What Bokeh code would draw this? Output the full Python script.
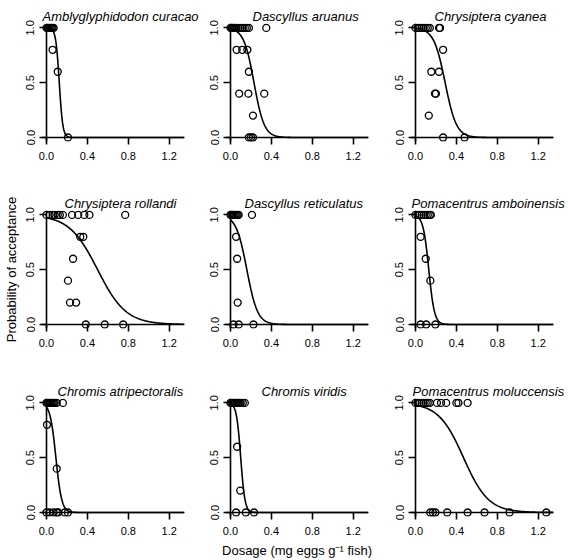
import numpy as np
from bokeh.plotting import figure
from bokeh.models import Range1d, FixedTicker, PrintfTickFormatter, Span
from bokeh.layouts import gridplot
from bokeh.embed import file_html
from bokeh.resources import INLINE

species = ["Amblyglyphidodon curacao", "Dascyllus aruanus", "Chrysiptera cyanea",
           "Chrysiptera rollandi", "Dascyllus reticulatus", "Pomacentrus amboinensis",
           "Chromis atripectoralis", "Chromis viridis", "Pomacentrus moluccensis"]

dose_a_curacao = [0.0, 0.01, 0.02, 0.03, 0.04, 0.05, 0.06, 0.07, 0.06, 0.11, 0.21]
acc_a_curacao = [1.0, 1.0, 1.0, 1.0, 1.0, 1.0, 1.0, 1.0, 0.8, 0.6, 0.0]

dose_d_aruanus = [0.0, 0.01, 0.02, 0.03, 0.04, 0.05, 0.06, 0.08, 0.10, 0.12, 0.14, 0.16, 0.18, 0.35,
                  0.06, 0.115, 0.165, 0.18, 0.085, 0.175, 0.33, 0.22, 0.18, 0.20, 0.22]
acc_d_aruanus = [1.0, 1.0, 1.0, 1.0, 1.0, 1.0, 1.0, 1.0, 1.0, 1.0, 1.0, 1.0, 1.0, 1.0,
                 0.8, 0.8, 0.8, 0.6, 0.4, 0.4, 0.4, 0.2, 0.0, 0.0, 0.0]

dose_c_cyanea = [0.0, 0.02, 0.04, 0.06, 0.08, 0.10, 0.12, 0.14, 0.23, 0.24,
                 0.27, 0.155, 0.23, 0.19, 0.20, 0.13, 0.27, 0.48]
acc_c_cyanea = [1.0, 1.0, 1.0, 1.0, 1.0, 1.0, 1.0, 1.0, 1.0, 1.0,
                0.8, 0.6, 0.6, 0.4, 0.4, 0.2, 0.0, 0.0]

dose_c_rollandi = [0.0, 0.03, 0.06, 0.08, 0.11, 0.13, 0.16, 0.25, 0.31, 0.37, 0.42, 0.77,
                   0.33, 0.36, 0.26, 0.21, 0.23, 0.29, 0.385, 0.57, 0.75]
acc_c_rollandi = [1.0, 1.0, 1.0, 1.0, 1.0, 1.0, 1.0, 1.0, 1.0, 1.0, 1.0, 1.0,
                  0.8, 0.8, 0.6, 0.4, 0.2, 0.2, 0.0, 0.0, 0.0]

dose_d_reticulatus = [0.0, 0.01, 0.02, 0.03, 0.04, 0.05, 0.06, 0.07, 0.08, 0.21,
                      0.055, 0.065, 0.07, 0.03, 0.08, 0.225]
acc_d_reticulatus = [1.0, 1.0, 1.0, 1.0, 1.0, 1.0, 1.0, 1.0, 1.0, 1.0,
                     0.8, 0.6, 0.2, 0.0, 0.0, 0.0]

dose_p_amboinensis = [0.0, 0.02, 0.04, 0.06, 0.08, 0.10, 0.12, 0.14, 0.15,
                      0.05, 0.10, 0.145, 0.05, 0.105, 0.195]
acc_p_amboinensis = [1.0, 1.0, 1.0, 1.0, 1.0, 1.0, 1.0, 1.0, 1.0,
                     0.8, 0.6, 0.4, 0.0, 0.0, 0.0]

dose_c_atripectoralis = [0.0, 0.01, 0.02, 0.03, 0.04, 0.05, 0.06, 0.07, 0.08, 0.10, 0.16,
                         0.005, 0.10, 0.0, 0.03, 0.07, 0.10, 0.115, 0.18, 0.21]
acc_c_atripectoralis = [1.0, 1.0, 1.0, 1.0, 1.0, 1.0, 1.0, 1.0, 1.0, 1.0, 1.0,
                        0.8, 0.4, 0.0, 0.0, 0.0, 0.0, 0.0, 0.0, 0.0]

dose_c_viridis = [0.0, 0.01, 0.02, 0.03, 0.04, 0.05, 0.06, 0.07, 0.08, 0.09, 0.10, 0.12, 0.14,
                  0.065, 0.095, 0.055, 0.15, 0.23]
acc_c_viridis = [1.0, 1.0, 1.0, 1.0, 1.0, 1.0, 1.0, 1.0, 1.0, 1.0, 1.0, 1.0, 1.0,
                 0.6, 0.2, 0.0, 0.0, 0.0]

dose_p_moluccensis = [0.0, 0.02, 0.04, 0.06, 0.08, 0.10, 0.12, 0.14, 0.21, 0.25, 0.30, 0.40, 0.42, 0.51,
                      0.145, 0.17, 0.195, 0.31, 0.51, 0.675, 0.92, 1.28]
acc_p_moluccensis = [1.0, 1.0, 1.0, 1.0, 1.0, 1.0, 1.0, 1.0, 1.0, 1.0, 1.0, 1.0, 1.0, 1.0,
                     0.0, 0.0, 0.0, 0.0, 0.0, 0.0, 0.0, 0.0]

doses = [dose_a_curacao, dose_d_aruanus, dose_c_cyanea, dose_c_rollandi, dose_d_reticulatus,
         dose_p_amboinensis, dose_c_atripectoralis, dose_c_viridis, dose_p_moluccensis]
accepts = [acc_a_curacao, acc_d_aruanus, acc_c_cyanea, acc_c_rollandi, acc_d_reticulatus,
           acc_p_amboinensis, acc_c_atripectoralis, acc_c_viridis, acc_p_moluccensis]

# fitted logistic dose-response curves (dosage at 50% acceptance, slope)
fit_ed50 = [0.125, 0.23, 0.29, 0.50, 0.16, 0.13, 0.092, 0.10, 0.47]
fit_slope = [58.0, 20.0, 18.0, 7.2, 19.0, 36.0, 35.0, 48.0, 8.2]

x_ticks = [0.0, 0.4, 0.8, 1.2]
x_tick_labels = ["0.0", "0.4", "0.8", "1.2"]
y_ticks = [0.0, 0.5, 1.0]
y_tick_labels = ["0.0", "0.5", "1.0"]

y_title = "Probability of acceptance"
x_title = "Dosage (mg eggs g\u207b\u00b9 fish)"

# ---- layout / style ----
FONT = "Liberation Sans"
TITLE_SIZE = 13
FRAME_W, FRAME_H = 143, 118
X_IN, Y_IN = 5, 4            # px between frame edge and the zero lines
X1, Y1 = 1.35, 1.04
X0 = -X_IN * X1 / (FRAME_W - X_IN)
Y0 = -Y_IN * Y1 / (FRAME_H - Y_IN)
PX_PER_X = FRAME_W / (X1 - X0)
TICK = 7
col_w = [200, 184, 184]
col_left = [41, 25, 26]
row_h = [187, 188, 185]
row_top = 23
title_x = [[0.72, 0.73, 0.73], [0.72, 0.72, 0.71], [0.72, 0.72, 0.71]]

# Arial / Liberation Sans advance widths (per 1000 em), used to centre the titles
ADV = {"A": 667, "C": 722, "D": 722, "P": 667, "a": 556, "b": 556, "c": 500, "d": 556,
       "e": 556, "g": 556, "h": 556, "i": 222, "l": 222, "m": 833, "n": 556, "o": 556,
       "p": 556, "r": 333, "s": 500, "t": 278, "u": 556, "v": 500, "y": 500, " ": 278}


def text_width(s, size):
    return sum(ADV.get(ch, 556) for ch in s) / 1000.0 * size


figs = []
for i, name in enumerate(species):
    r, c = divmod(i, 3)
    p = figure(width=col_w[c], height=row_h[r],
               x_range=Range1d(X0, X1), y_range=Range1d(Y0, Y1),
               output_backend="svg", toolbar_location=None,
               min_border_left=col_left[c],
               min_border_right=col_w[c] - col_left[c] - FRAME_W,
               min_border_top=row_top,
               min_border_bottom=row_h[r] - row_top - FRAME_H)
    p.outline_line_color = None
    p.xgrid.visible = False
    p.ygrid.visible = False
    p.background_fill_color = "white"
    p.border_fill_color = "white"

    centre_px = (title_x[r][c] - X0) * PX_PER_X
    p.title.text = name
    p.title.align = "left"
    p.title.vertical_align = "top"
    p.title.offset = int(round(centre_px - text_width(name, TITLE_SIZE) / 2))
    p.title.standoff = -5
    p.title.text_font = FONT
    p.title.text_font_style = "italic"
    p.title.text_font_size = f"{TITLE_SIZE}px"
    p.title.text_color = "black"

    p.xaxis.ticker = FixedTicker(ticks=x_ticks, minor_ticks=[])
    p.yaxis.ticker = FixedTicker(ticks=y_ticks, minor_ticks=[])
    p.xaxis.formatter = PrintfTickFormatter(format="%.1f")
    p.yaxis.formatter = PrintfTickFormatter(format="%.1f")
    p.xaxis.major_label_overrides = dict(zip(x_ticks, x_tick_labels))
    p.yaxis.major_label_overrides = dict(zip(y_ticks, y_tick_labels))
    p.yaxis.major_label_orientation = "parallel"
    for ax in (p.xaxis, p.yaxis):
        ax.axis_line_color = None
        ax.major_tick_line_width = 1.6
        ax.major_tick_line_color = "black"
        ax.minor_tick_out = 0
        ax.minor_tick_in = 0
        ax.major_label_text_font = FONT
        ax.major_label_text_font_size = "11px"
        ax.major_label_text_color = "black"
        ax.axis_label_text_font = FONT
        ax.axis_label_text_font_size = "13px"
        ax.axis_label_text_font_style = "normal"
        ax.axis_label_text_color = "black"
        ax.axis_label_standoff = 5
    p.xaxis.major_tick_in = Y_IN
    p.xaxis.major_tick_out = TICK - Y_IN
    p.yaxis.major_tick_in = X_IN
    p.yaxis.major_tick_out = TICK - X_IN
    p.xaxis.major_label_standoff = 7
    p.yaxis.major_label_standoff = 5
    if r == 1 and c == 0:
        p.yaxis.axis_label = y_title
    if r == 2 and c == 1:
        p.xaxis.axis_label = x_title

    xs = np.linspace(0.0, 1.35, 271)
    ys = 1.0 / (1.0 + np.exp(fit_slope[i] * (xs - fit_ed50[i])))
    p.line(xs, ys, line_color="black", line_width=1.6)
    p.scatter(doses[i], accepts[i], marker="circle", size=7, fill_color=None,
              line_color="black", line_width=1.3)
    p.add_layout(Span(location=0, dimension="width", line_color="black", line_width=1.6))
    p.add_layout(Span(location=0, dimension="height", line_color="black", line_width=1.6))
    figs.append(p)

grid = gridplot([figs[0:3], figs[3:6], figs[6:9]], toolbar_location=None)

open("out.html", "w").write(file_html(grid, INLINE))
